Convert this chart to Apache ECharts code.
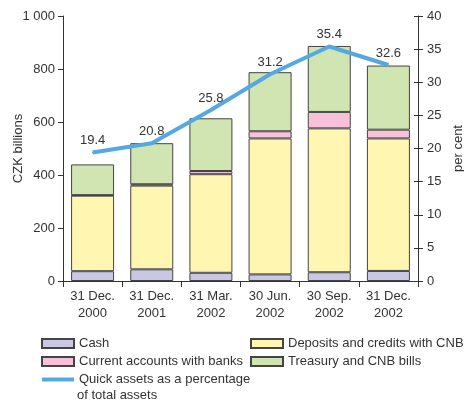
<!DOCTYPE html>
<html><head><meta charset="utf-8">
<script src="https://cdn.jsdelivr.net/npm/echarts@6/dist/echarts.min.js"></script>
<style>html,body{margin:0;padding:0;background:#fff}#c{width:464px;height:405px}</style>
</head><body><div id="c"></div>
<script>
const categories = ['31 Dec.\n2000','31 Dec.\n2001','31 Mar.\n2002','30 Jun.\n2002','30 Sep.\n2002','31 Dec.\n2002'];
const cash = [37, 44, 31, 25, 33, 38];
const deposits = [285, 316, 372, 513, 543, 500];
const currentAccounts = [2, 5, 12, 27, 62, 33];
const treasury = [116, 155, 199, 223, 249, 242];
const quickPct = [19.4, 20.8, 25.8, 31.2, 35.4, 32.6];
const leftTicks = {min: 0, max: 1000, interval: 200};
const rightTicks = {min: 0, max: 40, interval: 5};

const FONT = 'Liberation Sans';
const TXT = '#333';
const LINE = '#55a8e0';
const chart = echarts.init(document.getElementById('c'), null, {renderer: 'canvas'});
const barStyle = (c) => ({color: c, borderColor: '#444', borderWidth: 1});
const bw = 43;
chart.setOption({
  animation: false,
  textStyle: {fontFamily: FONT},
  grid: {left: 63, right: 46, top: 16, bottom: 124, containLabel: false, outerBoundsMode: 'none'},
  xAxis: {
    type: 'category', data: categories,
    axisLine: {lineStyle: {color: '#333', width: 1}},
    axisTick: {show: true, length: 6, lineStyle: {color: '#333'}},
    axisLabel: {color: TXT, fontSize: 13, fontFamily: FONT, margin: 7, lineHeight: 17, interval: 0}
  },
  yAxis: [
    {type: 'value', position: 'left', min: leftTicks.min, max: leftTicks.max, interval: leftTicks.interval,
     name: 'CZK billions', nameLocation: 'middle', nameGap: 38, nameRotate: 90, nameMoveOverlap: false,
     nameTextStyle: {color: TXT, fontSize: 13, fontFamily: FONT},
     axisLine: {show: true, lineStyle: {color: '#333'}},
     axisTick: {show: true, length: 5, lineStyle: {color: '#333'}},
     splitLine: {show: false},
     axisLabel: {color: TXT, fontSize: 13, fontFamily: FONT, margin: 8,
       formatter: v => v >= 1000 ? String(v).replace(/(\d)(\d{3})$/, '$1 $2') : String(v)}},
    {type: 'value', position: 'right', min: rightTicks.min, max: rightTicks.max, interval: rightTicks.interval,
     name: 'per cent', nameLocation: 'middle', nameGap: 34, nameRotate: 90,
     nameTextStyle: {color: TXT, fontSize: 13, fontFamily: FONT},
     axisLine: {show: true, lineStyle: {color: '#333'}},
     axisTick: {show: true, length: 5, lineStyle: {color: '#333'}},
     splitLine: {show: false},
     axisLabel: {color: TXT, fontSize: 13, fontFamily: FONT, margin: 9}},
    {type: 'value', position: 'right', min: rightTicks.min, max: rightTicks.max, interval: rightTicks.interval,
     axisLine: {show: false},
     axisTick: {show: true, inside: true, length: 4, lineStyle: {color: '#333'}},
     splitLine: {show: false}, axisLabel: {show: false}}
  ],
  legend: [
    {orient: 'vertical', left: 40, top: 337, padding: 0, itemWidth: 32, itemHeight: 9, itemGap: 5,
     textStyle: {color: TXT, fontSize: 13, fontFamily: FONT},
     data: [{name: 'Cash', icon: 'rect'}, {name: 'Current accounts with banks', icon: 'rect'},
            {name: 'Quick assets as a percentage', itemStyle: {opacity: 0}, lineStyle: {width: 4, color: LINE}}]},
    {orient: 'vertical', left: 250, top: 337, padding: 0, itemWidth: 32, itemHeight: 9, itemGap: 5,
     textStyle: {color: TXT, fontSize: 13, fontFamily: FONT},
     data: [{name: 'Deposits and credits with CNB', icon: 'rect'}, {name: 'Treasury and CNB bills', icon: 'rect'}]}
  ],
  graphic: [{type: 'text', left: 77, top: 389, style: {text: 'of total assets', fill: TXT, font: '13px "' + FONT + '"'}}],
  series: [
    {name: 'Cash', type: 'bar', stack: 'a', barWidth: bw, data: cash, itemStyle: barStyle('#c9c7e3')},
    {name: 'Deposits and credits with CNB', type: 'bar', stack: 'a', barWidth: bw, data: deposits, itemStyle: barStyle('#fff6b2')},
    {name: 'Current accounts with banks', type: 'bar', stack: 'a', barWidth: bw, data: currentAccounts, itemStyle: barStyle('#f6c1d9')},
    {name: 'Treasury and CNB bills', type: 'bar', stack: 'a', barWidth: bw, data: treasury, itemStyle: barStyle('#d1e5b2')},
    {name: 'Quick assets as a percentage', type: 'line', yAxisIndex: 1, data: quickPct,
     symbol: 'circle', symbolSize: 1, showSymbol: true,
     lineStyle: {color: LINE, width: 4}, itemStyle: {color: LINE},
     label: {show: true, position: 'top', distance: 5, color: TXT, fontSize: 13, fontFamily: FONT,
       formatter: p => p.value.toFixed(1)}}
  ]
});
</script></body></html>
